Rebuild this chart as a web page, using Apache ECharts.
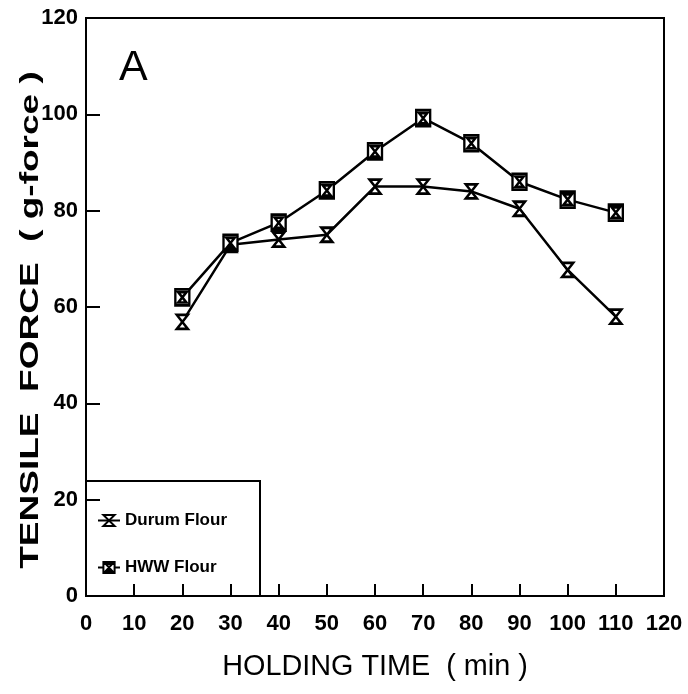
<!DOCTYPE html>
<html><head><meta charset="utf-8">
<script src="https://cdn.jsdelivr.net/npm/echarts@6/dist/echarts.min.js"></script>
<style>html,body{margin:0;padding:0;background:#fff}#c{width:688px;height:694px}</style>
</head><body><div id="c"></div>
<script>
const holdingTime = [20, 30, 40, 50, 60, 70, 80, 90, 100, 110];
const durumFlour = [56.9, 72.9, 74, 75, 85, 85, 84, 80.4, 67.7, 58];
const hwwFlour = [62, 73.3, 77.5, 84.2, 92.3, 99.2, 94, 86, 82.3, 79.6];
const seriesNames = ['Durum Flour', 'HWW Flour'];

const hourglass = 'path://M0,0 L10,0 L0,13 L10,13 Z';
const boxglass = 'path://M0,0 L12,0 L12,14 L0,14 Z M2.5,2.5 L9.5,2.5 L2.5,11.5 L9.5,11.5 Z';
const font = 'Liberation Sans, Arial, sans-serif';

const chart = echarts.init(document.getElementById('c'));
chart.setOption({
  animation: false,
  backgroundColor: '#fff',
  grid: { left: 86, right: 24, top: 18, bottom: 98, show: true, borderColor: '#000', borderWidth: 2, backgroundColor: 'transparent' },
  xAxis: {
    type: 'value', min: 0, max: 120, interval: 10,
    axisLine: { lineStyle: { color: '#000', width: 2 } },
    axisTick: { inside: true, length: 12, lineStyle: { color: '#000', width: 2 } },
    axisLabel: { color: '#000', fontSize: 22, fontFamily: font, fontWeight: 'bold', margin: 17 },
    splitLine: { show: false }
  },
  yAxis: {
    type: 'value', min: 0, max: 120, interval: 20,
    axisLine: { lineStyle: { color: '#000', width: 2 } },
    axisTick: { inside: true, length: 14, lineStyle: { color: '#000', width: 2 } },
    axisLabel: { color: '#000', fontSize: 22, fontFamily: font, fontWeight: 'bold', margin: 8 },
    splitLine: { show: false }
  },
  legend: {
    orient: 'vertical', left: 92, top: 507, itemGap: 30, itemWidth: 22, itemHeight: 14,
    data: seriesNames,
    textStyle: { color: '#000', fontSize: 17, fontFamily: font, fontWeight: 'bold' }
  },
  graphic: [
    { type: 'rect', shape: { x: 86, y: 481, width: 174, height: 115 }, style: { fill: 'none', stroke: '#000', lineWidth: 2 }, z: 1 },
    { type: 'text', left: 119, top: 47, style: { text: 'A', fontSize: 43, fontFamily: font, fill: '#000' } },
    { type: 'text', x: 31, y: 320, rotation: Math.PI / 2, scaleX: 1.48, style: { text: 'TENSILE  FORCE  ( g-force )', fontSize: 25, fontWeight: 'bold', fontFamily: font, fill: '#000', textAlign: 'center', textVerticalAlign: 'middle' } },
    { type: 'text', x: 375, y: 667, scaleX: 0.96, style: { text: 'HOLDING TIME  ( min )', fontSize: 30, fontFamily: font, fill: '#000', textAlign: 'center', textVerticalAlign: 'middle' } }
  ],
  series: [
    {
      name: seriesNames[0], type: 'line',
      data: holdingTime.map((x, i) => [x, durumFlour[i]]),
      symbol: hourglass, symbolSize: [11, 14],
      lineStyle: { color: '#000', width: 2.5 },
      itemStyle: { color: '#fff', borderColor: '#000', borderWidth: 2.5 }, z: 3
    },
    {
      name: seriesNames[1], type: 'line',
      data: holdingTime.map((x, i) => [x, hwwFlour[i]]),
      symbol: boxglass, symbolSize: [14, 16],
      lineStyle: { color: '#000', width: 2.5 },
      itemStyle: { color: '#fff', borderColor: '#000', borderWidth: 2.5 }, z: 4
    }
  ]
});
</script></body></html>
